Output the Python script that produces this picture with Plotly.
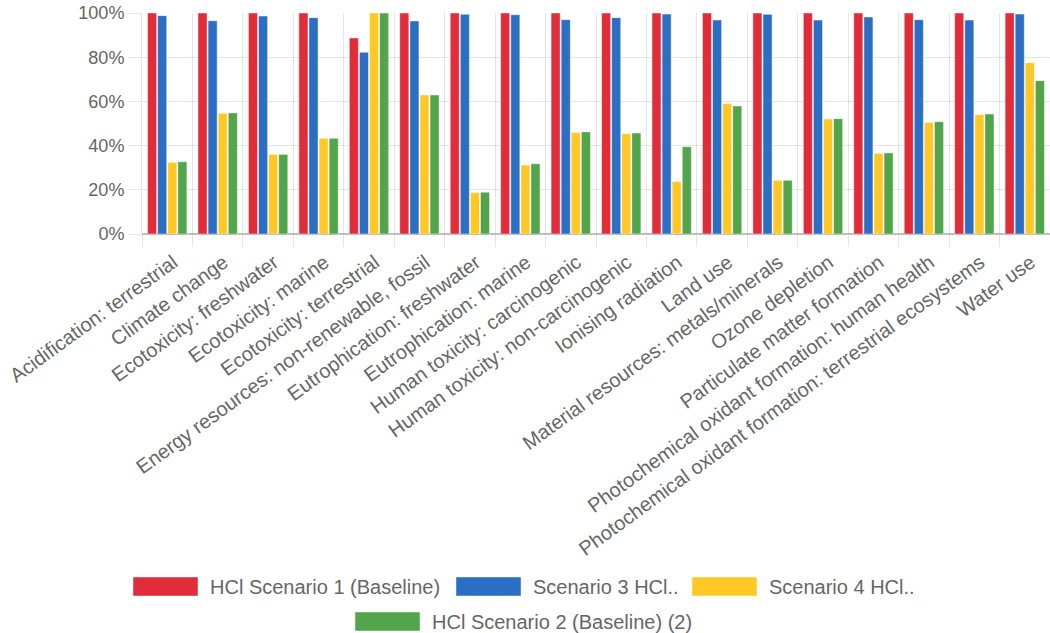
import plotly.graph_objects as go

# Impact categories (x axis)
categories = [
    "Acidification: terrestrial",
    "Climate change",
    "Ecotoxicity: freshwater",
    "Ecotoxicity: marine",
    "Ecotoxicity: terrestrial",
    "Energy resources: non-renewable, fossil",
    "Eutrophication: freshwater",
    "Eutrophication: marine",
    "Human toxicity: carcinogenic",
    "Human toxicity: non-carcinogenic",
    "Ionising radiation",
    "Land use",
    "Material resources: metals/minerals",
    "Ozone depletion",
    "Particulate matter formation",
    "Photochemical oxidant formation: human health",
    "Photochemical oxidant formation: terrestrial ecosystems",
    "Water use",
]

# Relative impact per scenario (% of the highest)
scenario1 = [100, 100, 100, 100, 88.7, 100, 100, 100, 100, 100, 100, 100, 100, 100, 100, 100, 100, 100]
scenario3 = [98.8, 96.5, 98.6, 97.9, 82.2, 96.4, 99.4, 99.2, 97.0, 97.9, 99.5, 96.8, 99.4, 96.8, 98.2, 97.0, 96.8, 99.5]
scenario4 = [32.4, 54.6, 36.0, 43.3, 100, 62.9, 18.7, 31.2, 45.9, 45.4, 23.7, 59.0, 24.3, 52.0, 36.5, 50.5, 54.0, 77.5]
scenario2 = [32.7, 54.8, 36.0, 43.3, 100, 62.9, 18.9, 31.8, 46.2, 45.7, 39.5, 57.9, 24.3, 52.2, 36.7, 50.8, 54.3, 69.4]

series_names = ["HCl Scenario 1 (Baseline)", "Scenario 3 HCl..", "Scenario 4 HCl..", "HCl Scenario 2 (Baseline) (2)"]
series_values = [scenario1, scenario3, scenario4, scenario2]
colors = ["#E12D39", "#2A6FC4", "#FFC825", "#52A54B"]

y_ticks = [0, 20, 40, 60, 80, 100]
y_tick_labels = ["0%", "20%", "40%", "60%", "80%", "100%"]

FONT = "Liberation Sans, Arial, Helvetica, sans-serif"
TEXT = "#666666"
GRID = "rgba(0,0,0,0.1)"

W, H = 1050, 633
ML, MR, MT, MB = 142, 0, 13, 399
PW, PH = W - ML - MR, H - MT - MB

fig = go.Figure()
for name, vals, col in zip(series_names, series_values, colors):
    fig.add_trace(go.Bar(
        x=categories, y=vals, name=name,
        marker=dict(color=col, line=dict(color="rgba(255,255,255,0.45)", width=1)),
        showlegend=False,
    ))


def px_x(px):
    return (px - ML) / PW


def px_y(py):
    return (H - MB - py) / PH


# Legend drawn as wide colour boxes with labels
legend_items = [
    (0, 133, 577, 208),
    (1, 456, 577, 531),
    (2, 692, 577, 767),
    (3, 355, 612, 430),
]
shapes = []
annotations = []
for idx, bx, by, tx in legend_items:
    shapes.append(dict(
        type="rect", xref="paper", yref="paper",
        x0=px_x(bx), x1=px_x(bx + 65), y0=px_y(by), y1=px_y(by + 19),
        fillcolor=colors[idx], line=dict(color="rgba(255,255,255,0.45)", width=1),
    ))
    annotations.append(dict(
        xref="paper", yref="paper", x=px_x(tx), y=px_y(by + 9.5),
        xanchor="left", yanchor="middle", showarrow=False,
        text=series_names[idx], font=dict(family=FONT, size=20, color=TEXT),
    ))

fig.update_layout(
    width=W, height=H,
    margin=dict(l=ML, r=MR, t=MT, b=MB, pad=0),
    paper_bgcolor="white", plot_bgcolor="white",
    barmode="group", bargap=0.2, bargroupgap=0.1,
    font=dict(family=FONT, color=TEXT),
    shapes=shapes, annotations=annotations,
    xaxis=dict(
        type="category", tickson="boundaries",
        showgrid=True, gridcolor=GRID, gridwidth=1,
        ticks="outside", ticklen=12, tickcolor=GRID, tickwidth=1,
        tickangle=-36, tickfont=dict(family=FONT, size=20, color=TEXT),
        ticklabelstandoff=12, ticklabelshift=6,
        showline=False, automargin=False,
    ),
    yaxis=dict(
        range=[0, 100], tickvals=y_ticks, ticktext=y_tick_labels,
        showgrid=True, gridcolor=GRID, gridwidth=1,
        ticks="outside", ticklen=13, tickcolor=GRID, tickwidth=1,
        tickfont=dict(family=FONT, size=18, color=TEXT),
        zeroline=True, zerolinecolor="rgba(0,0,0,0.25)", zerolinewidth=2,
        showline=True, linecolor=GRID, linewidth=1,
        automargin=False,
    ),
)

fig.write_html("out.html")
